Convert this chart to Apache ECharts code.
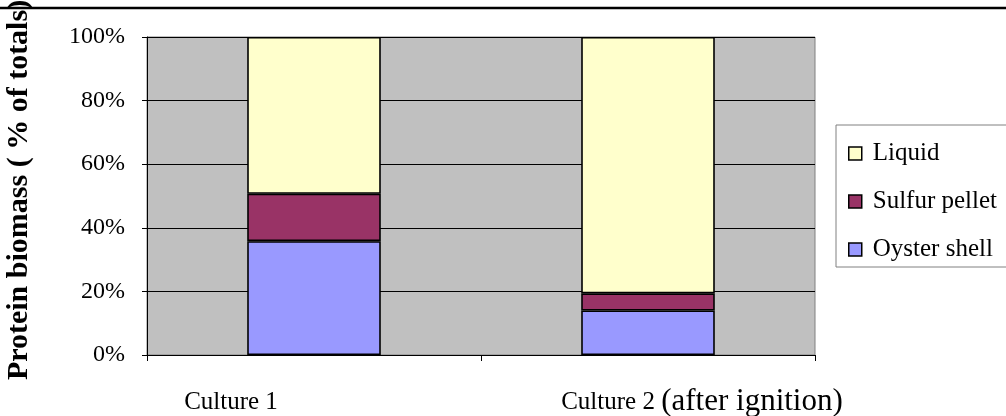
<!DOCTYPE html>
<html><head><meta charset="utf-8">
<script src="https://cdn.jsdelivr.net/npm/echarts@6/dist/echarts.min.js"></script>
<style>html,body{margin:0;padding:0;background:#fff}#c{width:1006px;height:416px}</style>
</head><body><div id="c"></div>
<script>
var categories = ['Culture 1', 'Culture 2'];
var oysterShell = [35.8, 14.0];
var sulfurPellet = [14.9, 5.4];
var liquid = [49.3, 80.6];
var yTicks = [0, 20, 40, 60, 80, 100];
var yTitle = 'Protein biomass ( % of totals)';
var legendOrder = ['Liquid', 'Sulfur pellet', 'Oyster shell'];

var FONT = '"Liberation Serif", "Times New Roman", serif';
var chart = echarts.init(document.getElementById('c'), null, {renderer: 'canvas'});
function bar(name, data, color) {
  return {name: name, type: 'bar', stack: 't', data: data, barWidth: '40%',
    itemStyle: {color: color, borderColor: '#000', borderWidth: 1.6}, emphasis: {disabled: true}};
}
chart.setOption({
  animation: false,
  textStyle: {fontFamily: FONT},
  grid: {left: 147, right: 191, top: 37, bottom: 61, containLabel: false, outerBoundsMode: 'none',
    show: true, backgroundColor: '#C0C0C0', borderColor: '#808080', borderWidth: 1},
  legend: {
    data: legendOrder, orient: 'vertical', left: 836, top: 125, icon: 'rect',
    itemWidth: 13, itemHeight: 13, itemGap: 23,
    itemStyle: {borderColor: '#000', borderWidth: 1.5},
    backgroundColor: '#fff', borderColor: '#808080', borderWidth: 1,
    padding: [16, 30, 5, 12],
    textStyle: {fontFamily: FONT, fontSize: 25, color: '#000', padding: [0, 0, 0, 6]}
  },
  xAxis: {
    type: 'category', data: categories,
    axisLine: {lineStyle: {color: '#000', width: 1}},
    axisTick: {show: true, alignWithLabel: false, length: 6, lineStyle: {color: '#000'}},
    axisLabel: {
      interval: 0, hideOverlap: false,
      margin: 32, color: '#000', fontFamily: FONT, fontSize: 25,
      formatter: function (v, i) {
        if (i === 0) return '{c1|' + v + '}';
        return '{c2|' + v + ' }{big|(after ignition)}';
      },
      rich: {
        c1: {fontFamily: FONT, fontSize: 25, lineHeight: 30, color: '#000', padding: [0, 166, 0, 0]},
        c2: {fontFamily: FONT, fontSize: 25, lineHeight: 30, color: '#000', padding: [0, 0, 0, 108]},
        big: {fontFamily: FONT, fontSize: 31, lineHeight: 30, color: '#000'}
      }
    }
  },
  yAxis: {
    type: 'value', min: yTicks[0], max: yTicks[yTicks.length - 1], interval: 20,
    name: yTitle, nameLocation: 'middle', nameRotate: 90, nameGap: 113,
    nameTextStyle: {fontFamily: FONT, fontSize: 30, fontWeight: 'bold', color: '#000', padding: [0, 0, 0, 12]},
    axisLine: {show: true, lineStyle: {color: '#000', width: 1}},
    axisTick: {show: true, length: 5, lineStyle: {color: '#000'}},
    axisLabel: {margin: 22, color: '#000', fontFamily: FONT, fontSize: 24, formatter: '{value}%'},
    splitLine: {show: true, lineStyle: {color: '#000', width: 1}}
  },
  series: [
    bar('Oyster shell', oysterShell, '#9999FF'),
    bar('Sulfur pellet', sulfurPellet, '#993366'),
    bar('Liquid', liquid, '#FFFFCC')
  ],
  graphic: [{type: 'line', shape: {x1: 0, y1: 8, x2: 1006, y2: 8}, style: {stroke: '#000', lineWidth: 2.5}, z: 100}]
});
</script></body></html>
